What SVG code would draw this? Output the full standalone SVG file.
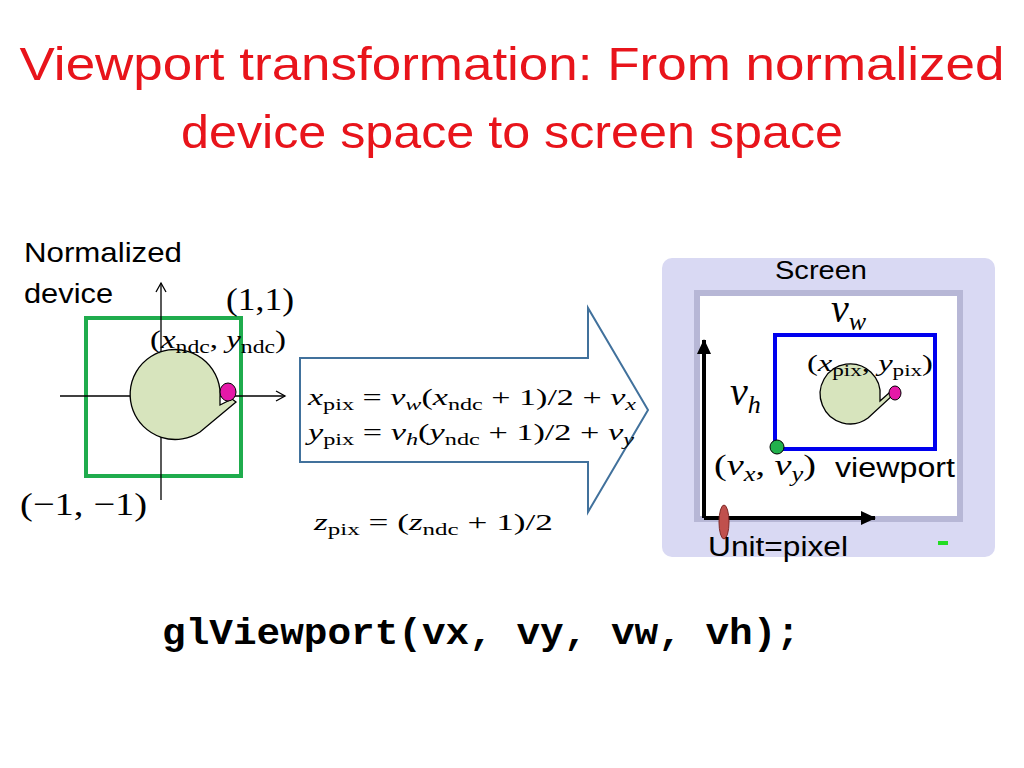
<svg xmlns="http://www.w3.org/2000/svg" width="1024" height="768" viewBox="0 0 1024 768">
<style>
.t{font-family:"Liberation Sans",Arial,sans-serif;fill:#000}
.m{font-family:"Liberation Serif","DejaVu Serif",serif;fill:#000}
.i{font-style:italic}
.ax{stroke:#000;stroke-width:1.3;fill:none}
.blob{fill:#d7e4bd;stroke:#000;stroke-width:1.3}
</style>
<defs>
<marker id="open" markerWidth="12" markerHeight="12" refX="10" refY="6" orient="auto" markerUnits="userSpaceOnUse"><path d="M1,1 L10,6 L1,11" fill="none" stroke="#000" stroke-width="1.3"/></marker>
<marker id="solid" markerWidth="16" markerHeight="14" refX="14" refY="7" orient="auto" markerUnits="userSpaceOnUse"><path d="M0,0 L15,7 L0,14 Z" fill="#000"/></marker>
</defs>
<rect width="1024" height="768" fill="#fff"/>
<g id="title" font-family="'Liberation Sans',Arial,sans-serif" font-size="46" fill="#e8141b" text-anchor="middle">
<text x="512" y="80" textLength="985" lengthAdjust="spacingAndGlyphs">Viewport transformation: From normalized</text>
<text x="512" y="148" textLength="662" lengthAdjust="spacingAndGlyphs">device space to screen space</text>
</g>
<g id="ndc">
<text class="t" x="24" y="262" font-size="28" textLength="158" lengthAdjust="spacingAndGlyphs">Normalized</text>
<text class="t" x="24" y="303" font-size="28" textLength="89" lengthAdjust="spacingAndGlyphs">device</text>
<rect x="86" y="318" width="155" height="158" fill="none" stroke="#1fac4d" stroke-width="4"/>
<line class="ax" x1="60" y1="396" x2="285" y2="396" marker-end="url(#open)"/>
<line class="ax" x1="161" y1="500" x2="161" y2="283" marker-end="url(#open)"/>
<path class="blob" d="M220,398 A45,45 0 1 0 200,432 L236,402 L232,399 L220,405 Z"/>
<ellipse cx="228" cy="392" rx="8" ry="9" fill="#e519a8" stroke="#000" stroke-width="1"/>
<text class="m" x="226" y="310" font-size="32" textLength="68" lengthAdjust="spacingAndGlyphs">(1,1)</text>
<text class="m" x="20" y="515" font-size="32" textLength="127" lengthAdjust="spacingAndGlyphs">(−1, −1)</text>
<text class="m" x="150" y="348" font-size="25" textLength="136" lengthAdjust="spacingAndGlyphs">(<tspan class="i">x</tspan><tspan font-size="18" dy="5">ndc</tspan><tspan dy="-5">, </tspan><tspan class="i">y</tspan><tspan font-size="18" dy="5">ndc</tspan><tspan dy="-5">)</tspan></text>
</g>
<g id="arrow">
<path d="M300,358 H588 V308 L648,410 L588,512 V462 H300 Z" fill="#fff" stroke="#41719c" stroke-width="2"/>
<text class="m" x="308" y="405" font-size="24" textLength="328" lengthAdjust="spacingAndGlyphs"><tspan class="i">x</tspan><tspan font-size="17" dy="5">pix</tspan><tspan dy="-5"> = </tspan><tspan class="i">v</tspan><tspan class="i" font-size="17" dy="5">w</tspan><tspan dy="-5">(</tspan><tspan class="i">x</tspan><tspan font-size="17" dy="5">ndc</tspan><tspan dy="-5"> + 1)/2 + </tspan><tspan class="i">v</tspan><tspan class="i" font-size="17" dy="5">x</tspan></text>
<text class="m" x="308" y="440" font-size="24" textLength="326" lengthAdjust="spacingAndGlyphs"><tspan class="i">y</tspan><tspan font-size="17" dy="5">pix</tspan><tspan dy="-5"> = </tspan><tspan class="i">v</tspan><tspan class="i" font-size="17" dy="5">h</tspan><tspan dy="-5">(</tspan><tspan class="i">y</tspan><tspan font-size="17" dy="5">ndc</tspan><tspan dy="-5"> + 1)/2 + </tspan><tspan class="i">v</tspan><tspan class="i" font-size="17" dy="5">y</tspan></text>
</g>
<text class="m" x="314" y="530" font-size="24" textLength="239" lengthAdjust="spacingAndGlyphs"><tspan class="i">z</tspan><tspan font-size="17" dy="5">pix</tspan><tspan dy="-5"> =  (</tspan><tspan class="i">z</tspan><tspan font-size="17" dy="5">ndc</tspan><tspan dy="-5"> + 1)/2</tspan></text>
<g id="screen">
<rect x="662" y="258" width="333" height="299" rx="10" fill="#d9d9f3"/>
<path d="M694,290 H963 V522 H694 Z" fill="#b7b7d6"/>
<rect x="700" y="296" width="257" height="220" fill="#fff"/>
<text class="t" x="821" y="279" font-size="26" text-anchor="middle" textLength="92" lengthAdjust="spacingAndGlyphs">Screen</text>
<rect x="775" y="335" width="160" height="114" fill="none" stroke="#0000ee" stroke-width="4"/>
<line x1="704" y1="518" x2="704" y2="340" stroke="#000" stroke-width="4" marker-end="url(#solid)"/>
<line x1="704" y1="518" x2="875" y2="518" stroke="#000" stroke-width="4" marker-end="url(#solid)"/>
<ellipse cx="724" cy="522" rx="5" ry="17" fill="#c0504d" stroke="#7f2a28" stroke-width="1"/>
<path class="blob" d="M880,397 A30,30 0 1 0 868,418 L893,395 L889,393 L880,401 Z"/>
<ellipse cx="895" cy="393" rx="6" ry="7" fill="#e519a8" stroke="#000" stroke-width="1"/>
<circle cx="777" cy="447" r="7" fill="#22b14c" stroke="#000" stroke-width="1"/>
<text class="m i" x="831" y="322" font-size="40">v<tspan font-size="26" dy="8">w</tspan></text>
<text class="m i" x="730" y="405" font-size="40">v<tspan font-size="26" dy="8">h</tspan></text>
<text class="m" x="807" y="371" font-size="24" textLength="126" lengthAdjust="spacingAndGlyphs">(<tspan class="i">x</tspan><tspan font-size="17" dy="5">pix</tspan><tspan dy="-5">, </tspan><tspan class="i">y</tspan><tspan font-size="17" dy="5">pix</tspan><tspan dy="-5">)</tspan></text>
<text class="m" x="714" y="475" font-size="29" textLength="102" lengthAdjust="spacingAndGlyphs">(<tspan class="i">v</tspan><tspan class="i" font-size="20" dy="6">x</tspan><tspan dy="-6">, </tspan><tspan class="i">v</tspan><tspan class="i" font-size="20" dy="6">y</tspan><tspan dy="-6">)</tspan></text>
<text class="t" x="835" y="477" font-size="27" textLength="120" lengthAdjust="spacingAndGlyphs">viewport</text>
<text class="t" x="708" y="556" font-size="27" textLength="140" lengthAdjust="spacingAndGlyphs">Unit=pixel</text>
<rect x="938" y="541" width="10" height="4" fill="#22dd22"/>
</g>
<text x="162" y="644" font-family="'Liberation Mono','Courier New',monospace" font-weight="bold" font-size="37" fill="#000" textLength="638" lengthAdjust="spacingAndGlyphs">glViewport(vx, vy, vw, vh);</text>
</svg>
